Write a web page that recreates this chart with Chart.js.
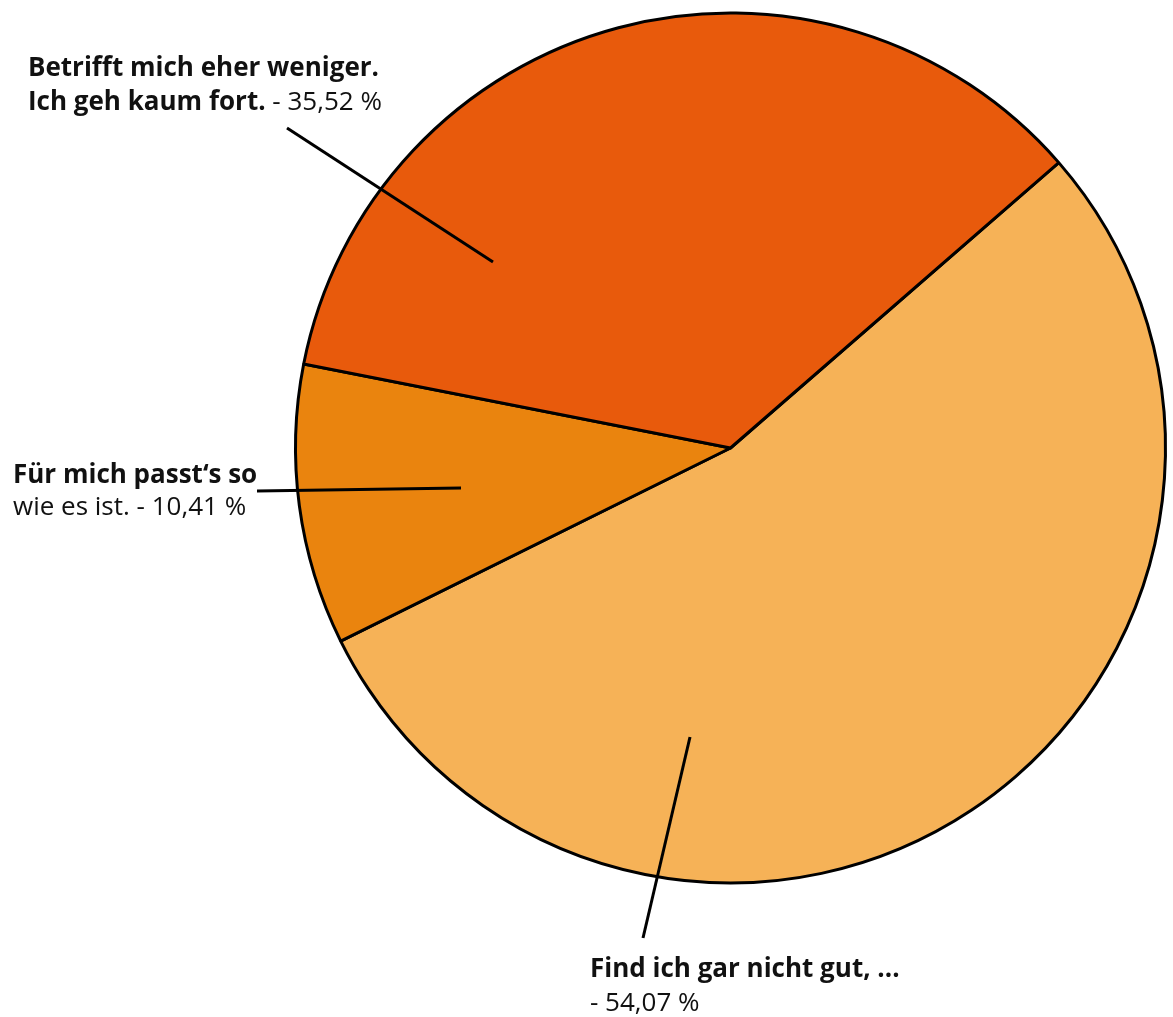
<!DOCTYPE html>
<html>
<head>
<meta charset="utf-8">
<script src="https://cdn.jsdelivr.net/npm/chart.js@4"></script>
<style>
html,body{margin:0;padding:0;background:#fff;}
#wrap{width:1173px;height:1017px;}
</style>
</head>
<body>
<div id="wrap"><canvas id="c" width="1173" height="1017"></canvas></div>
<script>
// ---- data ----
const categories = ['Find ich gar nicht gut, ...', 'Für mich passt‘s so wie es ist.', 'Betrifft mich eher weniger. Ich geh kaum fort.'];
const values = [54.07, 10.41, 35.52];
const valueLabels = ['54,07 %', '10,41 %', '35,52 %'];
const boldLines = [['Find ich gar nicht gut, ...'], ['Für mich passt‘s so'], ['Betrifft mich eher weniger.', 'Ich geh kaum fort.']];
const regularTails = [['', '- 54,07 %'], ['wie es ist. - 10,41 %'], ['', ' - 35,52 %']];
const colors = ['#F6B257', '#EA840E', '#E85A0C'];

// annotation layout (label text blocks and leader lines)
const annot = [
  { // 54,07
    lines: [{x:590, y:977, parts:[{t:boldLines[0][0], b:true}]},
            {x:590, y:1011, parts:[{t:regularTails[0][1], b:false}]}],
    leader: [[690,737],[643,938]]
  },
  { // 10,41
    lines: [{x:13, y:483, parts:[{t:boldLines[1][0], b:true}]},
            {x:13, y:515, parts:[{t:regularTails[1][0], b:false}]}],
    leader: [[461,488],[257,491]]
  },
  { // 35,52
    lines: [{x:28, y:76, parts:[{t:boldLines[2][0], b:true}]},
            {x:28, y:110, parts:[{t:boldLines[2][1], b:true},{t:regularTails[2][1], b:false}]}],
    leader: [[493,262],[287,128]]
  }
];

const FONT = '"Open Sans", Lato, sans-serif';
const FS = 26;

const labelPlugin = {
  id: 'labelPlugin',
  afterDraw(chart) {
    const ctx = chart.ctx;
    ctx.save();
    ctx.strokeStyle = '#000';
    ctx.lineWidth = 3;
    ctx.lineCap = 'butt';
    annot.forEach(a => {
      ctx.beginPath();
      ctx.moveTo(a.leader[0][0], a.leader[0][1]);
      ctx.lineTo(a.leader[1][0], a.leader[1][1]);
      ctx.stroke();
    });
    ctx.fillStyle = '#111';
    ctx.textBaseline = 'alphabetic';
    ctx.textAlign = 'left';
    annot.forEach(a => {
      a.lines.forEach(l => {
        let x = l.x;
        l.parts.forEach(p => {
          ctx.font = (p.b ? 'bold ' : '') + FS + 'px ' + FONT;
          ctx.fillText(p.t, x, l.y);
          x += ctx.measureText(p.t).width;
        });
      });
    });
    ctx.restore();
  }
};

new Chart(document.getElementById('c'), {
  type: 'pie',
  data: {
    labels: categories,
    datasets: [{
      data: values,
      backgroundColor: colors,
      borderColor: '#000',
      borderWidth: 3,
      borderAlign: 'center'
    }]
  },
  options: {
    responsive: false,
    animation: false,
    rotation: 49,
    layout: { padding: { left: 294, right: 6, top: 11, bottom: 132 } },
    plugins: { legend: { display: false }, tooltip: { enabled: false } }
  },
  plugins: [labelPlugin]
});
</script>
</body>
</html>
